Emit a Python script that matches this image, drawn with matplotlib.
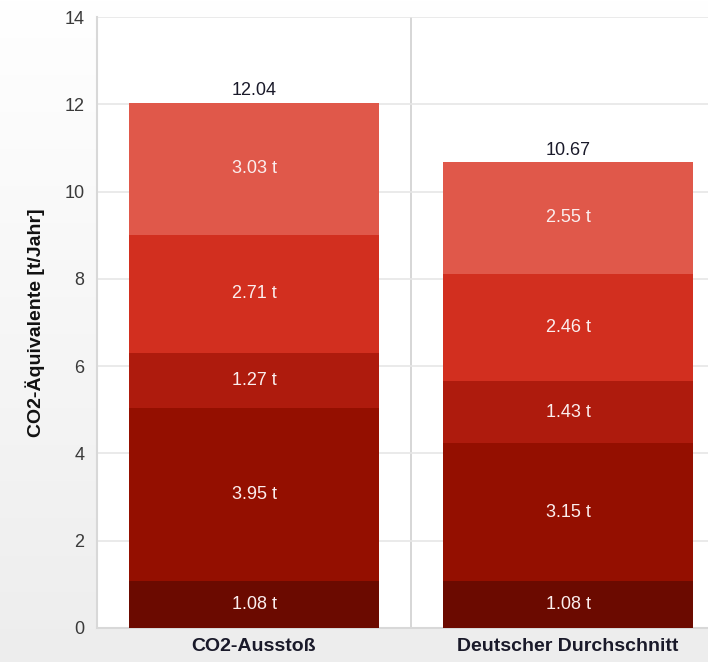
import matplotlib
matplotlib.use("Agg")
import matplotlib.pyplot as plt
import numpy as np

categories = ["CO2-Ausstoß", "Deutscher Durchschnitt"]
segments = [
    [1.08, 1.08],
    [3.95, 3.15],
    [1.27, 1.43],
    [2.71, 2.46],
    [3.03, 2.55],
]
totals = [12.04, 10.67]
colors = ["#6b0a00", "#940f00", "#ae1b0d", "#d22f1f", "#e0584a"]
yticks = [0, 2, 4, 6, 8, 10, 12, 14]

plt.rcParams['font.family'] = ['Liberation Sans', 'DejaVu Sans']
fig = plt.figure(figsize=(7.08, 6.62), dpi=100)

# background gradient
bg = fig.add_axes([0, 0, 1, 1])
grad = np.linspace(1.0, 0.93, 256).reshape(-1, 1)
bg.imshow(np.dstack([grad, grad, grad]), aspect='auto', extent=[0, 1, 0, 1], origin='upper')
bg.axis('off')

W, H = 708, 662
ax = fig.add_axes([97 / W, (H - 628) / H, 628 / W, 611 / H])
ax.set_facecolor('white')
x = np.arange(len(categories))
bottom = np.zeros(len(categories))
for vals, c in zip(segments, colors):
    vals = np.array(vals)
    ax.bar(x, vals, bottom=bottom, width=0.796, color=c, edgecolor='none', zorder=3)
    for xi, v, b in zip(x, vals, bottom):
        ax.text(xi, b + v / 2, f"{v:.2f} t", ha='center', va='center', color='#fbeeee',
                fontsize=13, zorder=4)
    bottom += vals
for xi, t in zip(x, totals):
    ax.text(xi, t + 0.08, f"{t:.2f}", ha='center', va='bottom', color='#1a1a2a', fontsize=13, zorder=4)

ax.set_xlim(-0.5, 1.5)
ax.set_ylim(0, 14)
ax.set_yticks(yticks)
ax.set_yticklabels([str(v) for v in yticks], color='#3a3a3a', fontsize=13)
ax.grid(axis='y', color='#e6e6e6', linewidth=1.2, zorder=0)
ax.axvline(0.5, color='#cfcfcf', linewidth=1.2, zorder=1)
ax.set_xticks(x)
ax.set_xticklabels(categories, fontsize=14, fontweight='bold', color='#1a1a2a')
ax.tick_params(axis='y', length=0, pad=9)
ax.tick_params(axis='x', length=0, pad=7)
for s in ['top', 'right']:
    ax.spines[s].set_visible(False)
ax.spines['left'].set_color('#d8d8d8')
ax.spines['left'].set_linewidth(1.5)
ax.spines['bottom'].set_color('#d8d8d8')
ax.spines['bottom'].set_linewidth(1.5)
ax.set_ylabel("CO2-Äquivalente [t/Jahr]", fontsize=14, fontweight='bold', color='#111111', labelpad=14)

fig.savefig("out.png", dpi=100)
